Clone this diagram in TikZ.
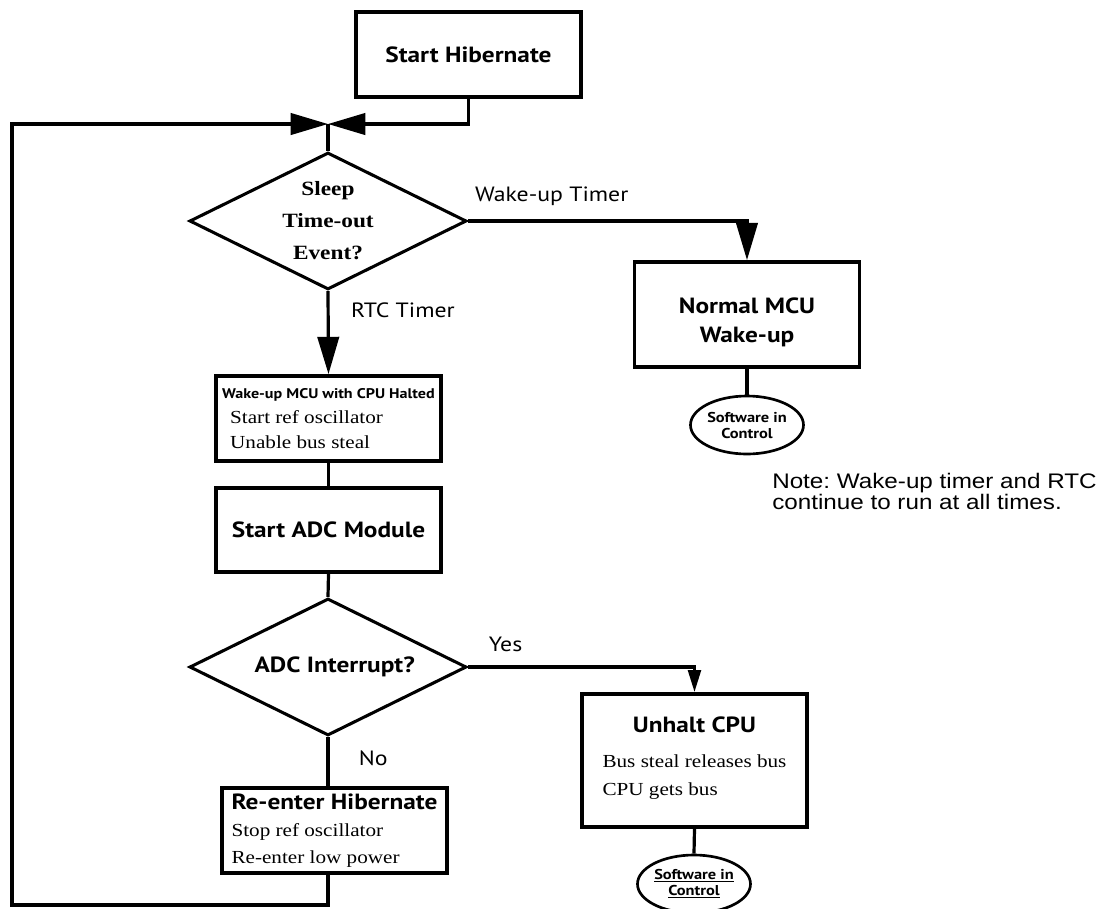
\documentclass[tikz,border=0pt]{standalone}
\usepackage{fontspec}
\setmainfont{Liberation Serif}[FakeStretch=1.15]
\newfontfamily\myr{PT Sans}[FakeStretch=1.15]
\newfontfamily\arl{Liberation Sans}[FakeStretch=1.15]
\frenchspacing
\usetikzlibrary{arrows.meta,shapes.geometric}
\tikzset{
  box/.style={draw, line width=2.8pt, minimum width=168.75pt, inner sep=0pt,
              font=\fontsize{13.8}{18.75}\selectfont},
  dec/.style={draw, diamond, aspect=2, line width=2.3pt, minimum width=207.75pt,
              minimum height=102.75pt, inner sep=0pt, align=center},
  sic/.style={draw, ellipse, line width=2pt, minimum width=84.75pt,
              minimum height=43.5pt, inner sep=0pt, align=center,
              font=\myr\bfseries\fontsize{10.7}{12}\selectfont},
  ttl/.style={font=\myr\bfseries\fontsize{16.5}{22}\selectfont},
  line/.style={line width=2.4pt},
  flow/.style={line, -{Triangle[length=28pt,width=16pt]}},
  flows/.style={line, -{Triangle[length=16.5pt,width=9.5pt]}},
  lbl/.style={font=\myr\fontsize{15.5}{17}\selectfont, inner sep=0pt},
}

\begin{document}
\begin{tikzpicture}[x=0.75pt,y=-0.75pt]
\useasboundingbox (0,0) rectangle (1101,908);

% left column
\node[box, ttl, minimum height=63.75pt] (hib) at (468.5,54.5) {Start Hibernate};
\coordinate (jn) at (328,124);
\coordinate (lb) at (12,905);
\node[dec, font=\bfseries\fontsize{15.2}{24}\selectfont] (sleep) at (328,221) {Sleep\\Time-out\\Event?};
\node[box, minimum height=63.75pt, align=left] (wake) at (328.5,418.5)
  {{\myr\bfseries\fontsize{10.5}{12}\selectfont Wake-up MCU with CPU Halted}\\
   \hspace*{6pt}Start ref oscillator\\ \hspace*{6pt}Unable bus steal};
\node[box, ttl, minimum height=63pt] (adc) at (328.5,530) {Start ADC Module};
\node[dec, ttl] (irq) at (328,667) {\hspace*{10pt}ADC Interrupt?};
\node[box, minimum height=63.75pt, align=left, font=\fontsize{13.8}{20.25}\selectfont] (reent) at (334.5,830.5)
  {{\myr\bfseries\fontsize{16.5}{20}\selectfont Re-enter Hibernate}\\
   Stop ref oscillator\\ Re-enter low power};

% right column
\node[box, ttl, minimum height=78.75pt, align=center] (normal) at (747,314.5) {\rule{0pt}{24pt}Normal MCU\\Wake-up};
\node[sic] (sw1) at (747,425) {Software in\\Control};
\node[box, minimum height=99.75pt, align=center, font=\fontsize{13.8}{21}\selectfont] (unhalt) at (694.5,760.5)
  {{\myr\bfseries\fontsize{16.5}{20}\selectfont Unhalt CPU}\\[5pt]
   \begin{tabular}[t]{@{}l@{}}Bus steal releases bus\\CPU gets bus\end{tabular}};
\node[sic] (sw2) at (694,884) {\underline{Software in}\\\underline{Control}};

\node[anchor=west, align=left, inner sep=0pt, font=\arl\fontsize{15.8}{14.5}\selectfont] (note) at (772,491)
  {Note: Wake-up timer and RTC\\continue to run at all times.};

% connectors
\draw[flow] (hib.south) |- (jn);
\draw[flow] (jn |- reent.south) |- (lb) |- (jn);
\draw[line] (jn) -- (sleep.north);
\draw[flow] (sleep.east) -| node[lbl, pos=0.15, above=10pt] (lwt) {Wake-up Timer} (normal.north);
\draw[flow] (sleep.south) -- node[lbl, pos=0.23, anchor=west, xshift=16pt] (lrtc) {RTC Timer} (wake.north);
\draw[line] (wake.south) -- (adc.north);
\draw[line] (adc.south) -- (irq.north);
\draw[flows] (irq.east) -| node[lbl, pos=0.083, above=10pt] (lyes) {Yes} (unhalt.north);
\draw[line] (irq.south) -- node[lbl, pos=0.43, anchor=west, xshift=22pt] (lno) {No} (irq.south |- reent.north);
\draw[line] (normal.south) -- (sw1.north);
\draw[line] (unhalt.south) -- (sw2.north);
\end{tikzpicture}
\end{document}
